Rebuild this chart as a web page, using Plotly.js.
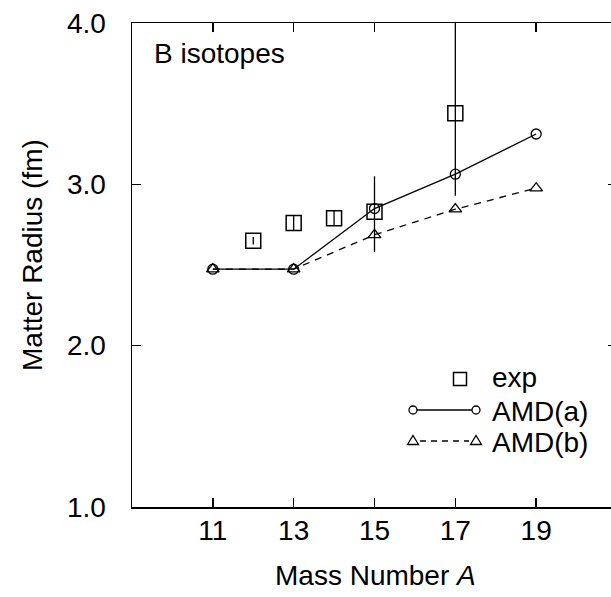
<!DOCTYPE html>
<html>
<head>
<meta charset="utf-8">
<script src="https://cdn.plot.ly/plotly-3.0.1.min.js"></script>
<style>
html, body { margin: 0; padding: 0; overflow: hidden; background: #fff; }
#chart { width: 617px; height: 597px; }
</style>
</head>
<body>
<div id="chart"></div>
<script>
// ---- data ----
var expA = [12, 13, 14, 15, 17];
var expR = [2.65, 2.76, 2.79, 2.83, 3.44];
var expErrPlus = [0.023, 0.043, 0.047, 0.22, 0.60];
var expErrMinus = [0.023, 0.043, 0.047, 0.25, 0.51];

var amdA = [11, 13, 15, 17, 19];
var amdaR = [2.474, 2.474, 2.850, 3.063, 3.312];
var amdbR = [2.474, 2.474, 2.687, 2.846, 2.976];

var xTicks = [11, 13, 15, 17, 19];
var yTicks = [1, 2, 3, 4];
var yTickText = ['1.0', '2.0', '3.0', '4.0'];

var seriesNames = ['exp', 'AMD(a)', 'AMD(b)'];

// ---- layout geometry (pixels) ----
var W = 617, H = 597;
var mL = 132, mR = 0, mT = 23, mB = 90;
var pw = W - mL - mR, ph = H - mT - mB;
function px(x) { return (x - mL) / pw; }
function py(y) { return (H - mB - y) / ph; }

var FONT = 'Liberation Sans, Arial, Helvetica, sans-serif';
var LW = 1.3;
var AXW = 1.5;

var traces = [
  {
    x: expA, y: expR, type: 'scatter', mode: 'markers', name: seriesNames[0],
    marker: { symbol: 'square-open', size: 15, color: '#000', line: { width: 1.5, color: '#000' } },
    error_y: { type: 'data', symmetric: false, array: expErrPlus, arrayminus: expErrMinus,
               color: '#000', thickness: LW, width: 0 },
    showlegend: false
  },
  {
    x: amdA, y: amdaR, type: 'scatter', mode: 'lines+markers', name: seriesNames[1],
    line: { color: '#000', width: LW },
    marker: { symbol: 'circle-open', size: 10, color: '#000', line: { width: LW, color: '#000' } },
    showlegend: false
  },
  {
    x: amdA, y: amdbR, type: 'scatter', mode: 'lines+markers', name: seriesNames[2],
    line: { color: '#000', width: LW, dash: '7px,6px' },
    marker: { symbol: 'triangle-up-open', size: 11, color: '#000', line: { width: LW, color: '#000' } },
    showlegend: false
  }
];

// legend drawn as decorations
var legY = [377, 410, 441];
var legSym = 460, legL = 413, legR = 476, legText = 490;
var shapes = [
  { type: 'rect', xref: 'paper', yref: 'paper', xsizemode: 'pixel', ysizemode: 'pixel',
    xanchor: px(legSym), yanchor: py(379), x0: -6.5, x1: 6.5, y0: -6.5, y1: 6.5,
    line: { color: '#000', width: 1.5 } },
  { type: 'line', xref: 'paper', yref: 'paper', x0: px(legL + 4), x1: px(legR - 4),
    y0: py(legY[1]), y1: py(legY[1]), line: { color: '#000', width: LW } },
  { type: 'circle', xref: 'paper', yref: 'paper', xsizemode: 'pixel', ysizemode: 'pixel',
    xanchor: px(legL), yanchor: py(legY[1]), x0: -4, x1: 4, y0: -4, y1: 4,
    line: { color: '#000', width: LW } },
  { type: 'circle', xref: 'paper', yref: 'paper', xsizemode: 'pixel', ysizemode: 'pixel',
    xanchor: px(legR), yanchor: py(legY[1]), x0: -4, x1: 4, y0: -4, y1: 4,
    line: { color: '#000', width: LW } },
  { type: 'line', xref: 'paper', yref: 'paper', x0: px(legL + 7), x1: px(legR - 7),
    y0: py(legY[2]), y1: py(legY[2]), line: { color: '#000', width: LW, dash: '6px,5px' } },
  { type: 'path', xref: 'paper', yref: 'paper', xsizemode: 'pixel', ysizemode: 'pixel',
    xanchor: px(legL), yanchor: py(legY[2]), path: 'M-5.5,-3.5 L5.5,-3.5 L0,5.5 Z',
    line: { color: '#000', width: LW } },
  { type: 'path', xref: 'paper', yref: 'paper', xsizemode: 'pixel', ysizemode: 'pixel',
    xanchor: px(legR), yanchor: py(legY[2]), path: 'M-5.5,-3.5 L5.5,-3.5 L0,5.5 Z',
    line: { color: '#000', width: LW } }
];

var annFont = { family: FONT, size: 28, color: '#000' };
var annotations = [
  { text: 'B isotopes', xref: 'paper', yref: 'paper', x: px(152), y: py(54),
    xanchor: 'left', yanchor: 'middle', showarrow: false, font: annFont },
  { text: seriesNames[0], xref: 'paper', yref: 'paper', x: px(legText), y: py(legY[0]),
    xanchor: 'left', yanchor: 'middle', showarrow: false, font: annFont },
  { text: seriesNames[1], xref: 'paper', yref: 'paper', x: px(legText), y: py(legY[1] + 1),
    xanchor: 'left', yanchor: 'middle', showarrow: false, font: annFont },
  { text: seriesNames[2], xref: 'paper', yref: 'paper', x: px(legText), y: py(legY[2] + 1),
    xanchor: 'left', yanchor: 'middle', showarrow: false, font: annFont },
  { text: 'Matter Radius (fm)', xref: 'paper', yref: 'paper', x: px(33), y: py(255),
    xanchor: 'center', yanchor: 'middle', textangle: -90, showarrow: false, font: annFont },
  { text: 'Mass Number <i>A</i>', xref: 'paper', yref: 'paper', x: px(375), y: py(575),
    xanchor: 'center', yanchor: 'middle', showarrow: false, font: annFont }
];

var layout = {
  width: W, height: H,
  margin: { l: mL, r: mR, t: mT, b: mB, pad: 0 },
  paper_bgcolor: '#fff', plot_bgcolor: '#fff',
  font: { family: FONT, size: 28, color: '#000' },
  showlegend: false,
  xaxis: {
    range: [9, 21], tickmode: 'array', tickvals: xTicks,
    ticks: 'inside', ticklen: 9, tickwidth: AXW, tickcolor: '#000',
    showline: true, linewidth: AXW, linecolor: '#000', mirror: 'ticks',
    showgrid: false, zeroline: false, ticklabelstandoff: -2,
    tickfont: { family: FONT, size: 28, color: '#000' }
  },
  yaxis: {
    range: [1, 4], tickmode: 'array', tickvals: yTicks, ticktext: yTickText,
    ticks: 'inside', ticklen: 9, tickwidth: AXW, tickcolor: '#000',
    showline: true, linewidth: AXW, linecolor: '#000', mirror: 'ticks',
    showgrid: false, zeroline: false, ticklabelstandoff: 19,
    tickfont: { family: FONT, size: 28, color: '#000' }
  },
  shapes: shapes,
  annotations: annotations
};

Plotly.newPlot('chart', traces, layout, { displayModeBar: false, staticPlot: true });
</script>
</body>
</html>
